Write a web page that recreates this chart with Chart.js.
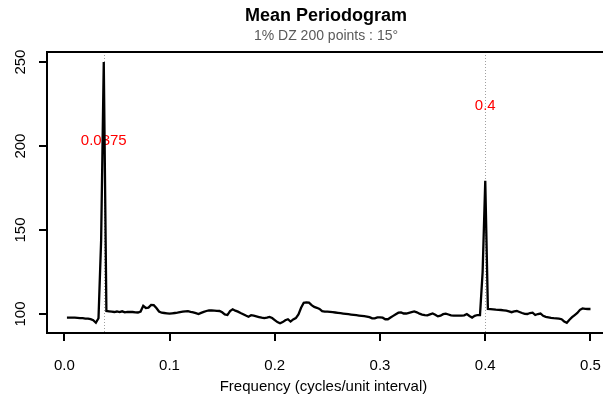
<!DOCTYPE html>
<html>
<head>
<meta charset="utf-8">
<script src="https://cdn.jsdelivr.net/npm/chart.js@4.4.1/dist/chart.umd.min.js"></script>
<style>
  html, body { margin: 0; padding: 0; background: #fff; overflow: hidden; }
  #myChart { display: block; }
</style>
</head>
<body>
<canvas id="myChart" width="603" height="398"></canvas>
<script>
'use strict';

// mean periodogram, 200 frequencies (step 1/400)
const freqStep = 0.0025;
const power = [
  97.8, 97.8, 97.8, 97.8, 97.7, 97.6, 97.5, 97.3, 97.2, 96.9,
  96.3, 94.8, 97.5, 144, 250, 101.8, 101.6, 101.4, 101.2, 101.5,
  101.1, 101.6, 101.0, 101.3, 101.2, 101.2, 101.0, 100.9, 101.5, 104.9,
  103.6, 103.8, 105.4, 105.3, 103.6, 101.5, 100.8, 100.6, 100.4, 100.2,
  100.4, 100.6, 100.8, 101.1, 101.4, 101.6, 101.7, 101.3, 101.0, 100.5,
  100.0, 100.7, 101.3, 101.8, 102.2, 102.1, 102.0, 101.9, 101.8, 101.0,
  99.8, 99.4, 101.8, 102.8, 102.0, 101.4, 100.6, 99.9, 99.1, 98.4,
  99.3, 99.0, 98.6, 98.2, 97.8, 97.6, 97.9, 98.3, 97.6, 96.4,
  95.2, 94.5, 95.2, 96.3, 96.9, 95.5, 96.8, 97.6, 99.8, 103.7,
  106.7, 106.9, 106.8, 105.3, 104.2, 103.7, 103.0, 101.7, 101.4, 101.4,
  101.3, 101.1, 100.9, 100.7, 100.5, 100.3, 100.1, 99.9, 99.7, 99.5,
  99.3, 99.1, 98.9, 98.7, 98.5, 98.1, 97.4, 97.4, 98.0, 98.0,
  97.8, 96.9, 96.9, 97.9, 98.9, 99.9, 100.8, 101.0, 100.3, 100.3,
  100.7, 101.1, 101.5, 101.0, 100.2, 99.7, 99.3, 99.2, 99.8, 100.3,
  99.6, 98.6, 99.0, 99.9, 100.2, 99.7, 99.2, 99.0, 99.0, 99.0,
  99.0, 99.2, 100.0, 98.8, 97.9, 98.9, 99.4, 99.4, 125, 179.3,
  103.0, 102.9, 102.8, 102.6, 102.5, 102.4, 102.2, 102.0, 101.6, 101.1,
  101.6, 101.8, 101.2, 100.6, 100.1, 100.0, 100.6, 100.8, 99.4, 100.0,
  100.3, 98.9, 98.3, 98.0, 97.7, 97.5, 97.4, 97.3, 96.9, 95.6,
  94.8, 96.6, 98.1, 99.4, 100.6, 102.5, 103.3, 103.1, 103.0, 103.0,
];

const xTicks = [0, 0.1, 0.2, 0.3, 0.4, 0.5];
const xTickLabels = ['0.0', '0.1', '0.2', '0.3', '0.4', '0.5'];
const yTicks = [100, 150, 200, 250];
const yTickLabels = ['100', '150', '200', '250'];

// peaks marked on the plot
const peakFreqs = [0.0375, 0.4];
const peakLabels = ['0.0375', '0.4'];
const peakLabelLevels = [203, 224];

const titleText = 'Mean Periodogram';
const subtitleText = '1% DZ 200 points : 15\u00B0';

const FONT = "'Liberation Sans', Arial, sans-serif";

const points = power.map((v, i) => ({ x: (i + 1) * freqStep, y: v }));

const decorations = {
  id: 'decorations',
  beforeDatasetsDraw(chart) {
    const { ctx, chartArea: a, scales: { x, y } } = chart;
    ctx.save();
    // dotted guides at the peaks
    ctx.strokeStyle = '#a0a0a0';
    ctx.lineWidth = 1;
    ctx.setLineDash([1, 2]);
    peakFreqs.forEach((f) => {
      const px = Math.round(x.getPixelForValue(f)) + 0.5;
      ctx.beginPath();
      ctx.moveTo(px, a.top);
      ctx.lineTo(px, a.bottom);
      ctx.stroke();
    });
    ctx.setLineDash([]);
    // red peak labels
    ctx.fillStyle = '#ff0000';
    ctx.font = '15px ' + FONT;
    ctx.textAlign = 'center';
    ctx.textBaseline = 'middle';
    peakFreqs.forEach((f, i) => {
      ctx.fillText(peakLabels[i], x.getPixelForValue(f), y.getPixelForValue(peakLabelLevels[i]));
    });
    ctx.restore();
  },
  afterDraw(chart) {
    const { ctx, chartArea: a, scales: { y }, width } = chart;
    ctx.save();
    // box: the right side is cut off in the original, so run top/bottom to the edge
    ctx.strokeStyle = '#000';
    ctx.lineWidth = 2;
    ctx.beginPath();
    ctx.moveTo(width, a.top);
    ctx.lineTo(a.left, a.top);
    ctx.lineTo(a.left, a.bottom);
    ctx.lineTo(width, a.bottom);
    ctx.stroke();
    // rotated y tick labels (R style)
    ctx.fillStyle = '#000';
    ctx.font = '15px ' + FONT;
    ctx.textAlign = 'center';
    ctx.textBaseline = 'middle';
    yTicks.forEach((v, i) => {
      ctx.save();
      ctx.translate(21, y.getPixelForValue(v));
      ctx.rotate(-Math.PI / 2);
      ctx.fillText(yTickLabels[i], 0, 0);
      ctx.restore();
    });
    // title and subtitle
    const cx = (a.left + 605) / 2;
    ctx.font = 'bold 18px ' + FONT;
    ctx.fillText(titleText, cx, 16);
    ctx.fillStyle = '#5a5a5a';
    ctx.font = '14px ' + FONT;
    ctx.fillText(subtitleText, cx, 36);
    ctx.restore();
  },
};

const config = {
  type: 'line',
  data: {
    datasets: [
      {
        data: points,
        borderColor: '#000',
        borderWidth: 2.3,
        pointRadius: 0,
        tension: 0,
        fill: false,
      },
    ],
  },
  options: {
    responsive: false,
    animation: false,
    layout: { padding: { top: 52, right: 3, left: 0, bottom: 0 } },
    plugins: {
      legend: { display: false },
      tooltip: { enabled: false },
    },
    scales: {
      x: {
        type: 'linear',
        min: -0.01644,
        max: 0.50903,
        afterBuildTicks: (s) => { s.ticks = xTicks.map((v) => ({ value: v })); },
        afterFit: (s) => { s.height = 65; s.paddingLeft = 0; s.paddingRight = 0; },
        grid: { drawOnChartArea: false, drawTicks: true, tickLength: 8, color: '#000', lineWidth: 2 },
        border: { display: false },
        ticks: {
          autoSkip: false,
          maxRotation: 0,
          padding: 16,
          color: '#000',
          font: { family: FONT, size: 15 },
          callback: (v, i) => xTickLabels[i],
        },
        title: {
          display: true,
          text: 'Frequency (cycles/unit interval)',
          color: '#000',
          font: { family: FONT, size: 15 },
          padding: { top: 0, bottom: 2 },
        },
      },
      y: {
        min: 88.7,
        max: 256,
        afterBuildTicks: (s) => { s.ticks = yTicks.map((v) => ({ value: v })); },
        afterFit: (s) => { s.width = 47; s.paddingTop = 0; s.paddingBottom = 0; },
        grid: { drawOnChartArea: false, drawTicks: true, tickLength: 8, color: '#000', lineWidth: 2 },
        border: { display: false },
        ticks: { display: false },
      },
    },
  },
  plugins: [decorations],
};

const myChart = new Chart(document.getElementById('myChart'), config);
</script>
</body>
</html>
